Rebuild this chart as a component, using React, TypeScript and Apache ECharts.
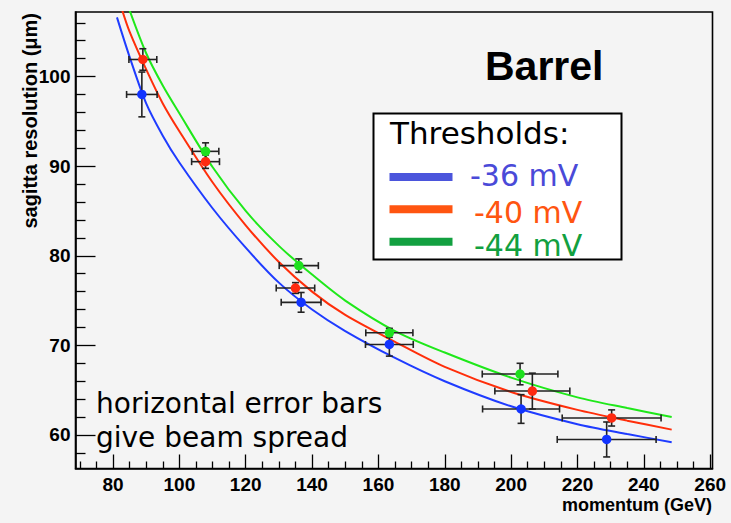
import React, { useEffect, useRef } from "react";
import * as echarts from "echarts";

// ---- axis ticks / labels ----
const X_MIN = 68.7;
const X_MAX = 260.7;
const Y_MIN = 56.26;
const Y_MAX = 107.2;
const xMajorTicks = [80, 100, 120, 140, 160, 180, 200, 220, 240, 260];
const xMinorTicks = [70, 75, 85, 90, 95, 105, 110, 115, 125, 130, 135, 145, 150, 155, 165, 170, 175, 185, 190, 195, 205, 210, 215, 225, 230, 235, 245, 250, 255];
const yMajorTicks = [60, 70, 80, 90, 100];
const yMinorTicks = [58, 62, 64, 66, 68, 72, 74, 76, 78, 82, 84, 86, 88, 92, 94, 96, 98, 102, 104, 106];

// ---- fit curves (momentum GeV, sagitta resolution um) ----
const blueCurveP = [81.2, 85, 90, 95, 100, 110, 120, 130, 140, 150, 165, 180, 200, 220, 235, 248.4];
const blueCurveS = [106.6, 102.2, 97.0, 93.4, 90.4, 85.3, 80.9, 77.0, 74.0, 71.6, 68.6, 66.0, 63.2, 61.2, 60.1, 59.2];
const redCurveP = [82.6, 85, 90, 95, 100, 110, 120, 130, 140, 150, 165, 180, 200, 220, 235, 248.4];
const redCurveS = [107.6, 105.0, 100.8, 97.0, 93.9, 88.2, 83.4, 79.3, 76.0, 73.4, 70.4, 67.6, 64.8, 62.8, 61.6, 60.6];
const greenCurveP = [84.8, 90, 95, 100, 110, 120, 130, 140, 150, 165, 180, 200, 220, 235, 248.4];
const greenCurveS = [107.6, 102.6, 99.0, 95.9, 89.9, 85.0, 81.1, 77.9, 75.0, 71.6, 69.2, 66.4, 64.2, 63.0, 62.0];

// ---- measured points with errors ----
const bluePtsP = [88.7, 136.7, 163.3, 203.0, 228.8];
const bluePtsS = [98.0, 74.8, 70.1, 62.9, 59.5];
const bluePtsPErr = [4.6, 6.0, 7.2, 11.6, 14.9];
const bluePtsSErr = [2.5, 1.1, 1.3, 1.6, 1.95];

const redPtsP = [89.0, 107.9, 135.0, 206.4, 230.3];
const redPtsS = [101.9, 90.5, 76.4, 64.9, 61.9];
const redPtsPErr = [4.2, 4.2, 5.8, 11.3, 14.9];
const redPtsSErr = [1.2, 0.75, 0.6, 2.0, 0.9];

const greenPtsP = [107.9, 136.0, 163.3, 202.7];
const greenPtsS = [91.65, 78.9, 71.4, 66.8];
const greenPtsPErr = [4.0, 5.9, 7.1, 11.4];
const greenPtsSErr = [0.95, 0.75, 0.5, 1.2];

const legendLabels = ["-36 mV", "-40 mV", "-44 mV"];

const zip = (a: number[], b: number[]) => a.map((v, i) => [v, b[i]]);
const zip4 = (a: number[], b: number[], c: number[], d: number[]) => a.map((v, i) => [v, b[i], c[i], d[i]]);

const BOLD = '"Liberation Sans", Arial, Helvetica, sans-serif';
const COMIC = '"DejaVu Sans", sans-serif';

const C_BLUE_LINE = "#1f3cff";
const C_RED_LINE = "#ff2e0a";
const C_GREEN_LINE = "#1fe81a";
const C_BLUE_PT = "#1234ff";
const C_RED_PT = "#ff2a10";
const C_GREEN_PT = "#1ee01e";

function errRender(params: any, api: any) {
  const x = api.value(0), y = api.value(1), ex = api.value(2), ey = api.value(3);
  const l = api.coord([x - ex, y]);
  const r = api.coord([x + ex, y]);
  const t = api.coord([x, y + ey]);
  const b = api.coord([x, y - ey]);
  const st = { stroke: "#222", lineWidth: 1.6 };
  const c = 3.5;
  return {
    type: "group",
    children: [
      { type: "line", shape: { x1: l[0], y1: l[1], x2: r[0], y2: r[1] }, style: st },
      { type: "line", shape: { x1: l[0], y1: l[1] - c, x2: l[0], y2: l[1] + c }, style: st },
      { type: "line", shape: { x1: r[0], y1: r[1] - c, x2: r[0], y2: r[1] + c }, style: st },
      { type: "line", shape: { x1: t[0], y1: t[1], x2: b[0], y2: b[1] }, style: st },
      { type: "line", shape: { x1: t[0] - c, y1: t[1], x2: t[0] + c, y2: t[1] }, style: st },
      { type: "line", shape: { x1: b[0] - c, y1: b[1], x2: b[0] + c, y2: b[1] }, style: st },
    ],
  };
}

export default function App() {
  const ref = useRef<HTMLDivElement>(null);
  useEffect(() => {
    if (!ref.current) return;
    const chart = echarts.init(ref.current, undefined, { renderer: "svg" });
    const axisLineStyle = { color: "#000", width: 1.6 };
    const tickStyle = { color: "#000", width: 1.3 };
    const curve = (name: string, p: number[], s: number[], color: string) => ({
      name,
      type: "line",
      data: zip(p, s),
      showSymbol: false,
      smooth: 0.3,
      lineStyle: { color, width: 2 },
      z: 3,
    });
    const errs = (p: number[], s: number[], ep: number[], es: number[]) => ({
      type: "custom",
      renderItem: errRender,
      data: zip4(p, s, ep, es),
      z: 4,
    });
    const pts = (p: number[], s: number[], color: string) => ({
      type: "scatter",
      data: zip(p, s),
      symbol: "circle",
      symbolSize: 9.5,
      itemStyle: { color, opacity: 1 },
      z: 5,
    });
    const legendText = (i: number, x: number, y: number, fill: string) => ({
      type: "text",
      x,
      y,
      z: 101,
      style: { text: legendLabels[i], fontSize: 30, fontFamily: COMIC, fill, align: "left", verticalAlign: "middle" },
    });
    const option: any = {
      animation: false,
      backgroundColor: "#f4f4f4",
      grid: {
        left: 75.5,
        right: 18.5,
        top: 12,
        bottom: 54.5,
        show: true,
        borderColor: "#000",
        borderWidth: 1.6,
        backgroundColor: "transparent",
      },
      xAxis: [
        {
          type: "value",
          min: X_MIN,
          max: X_MAX,
          position: "bottom",
          axisLine: { show: true, lineStyle: axisLineStyle },
          axisTick: { show: true, inside: true, length: 14, customValues: xMajorTicks, lineStyle: tickStyle },
          axisLabel: {
            customValues: xMajorTicks,
            margin: 6,
            fontSize: 19,
            fontWeight: "bold",
            fontFamily: BOLD,
            color: "#000",
          },
          splitLine: { show: false },
        },
        {
          type: "value",
          min: X_MIN,
          max: X_MAX,
          position: "bottom",
          axisLine: { show: false },
          axisTick: { show: true, inside: true, length: 7, customValues: xMinorTicks, lineStyle: tickStyle },
          axisLabel: { show: false },
          splitLine: { show: false },
        },
      ],
      yAxis: [
        {
          type: "value",
          min: Y_MIN,
          max: Y_MAX,
          position: "left",
          axisLine: { show: true, lineStyle: axisLineStyle },
          axisTick: { show: true, inside: true, length: 20, customValues: yMajorTicks, lineStyle: tickStyle },
          axisLabel: {
            customValues: yMajorTicks,
            margin: 5,
            fontSize: 19,
            fontWeight: "bold",
            fontFamily: BOLD,
            color: "#000",
          },
          splitLine: { show: false },
        },
        {
          type: "value",
          min: Y_MIN,
          max: Y_MAX,
          position: "left",
          axisLine: { show: false },
          axisTick: { show: true, inside: true, length: 10, customValues: yMinorTicks, lineStyle: tickStyle },
          axisLabel: { show: false },
          splitLine: { show: false },
        },
      ],
      series: [
        curve("-36 mV", blueCurveP, blueCurveS, C_BLUE_LINE),
        curve("-40 mV", redCurveP, redCurveS, C_RED_LINE),
        curve("-44 mV", greenCurveP, greenCurveS, C_GREEN_LINE),
        errs(bluePtsP, bluePtsS, bluePtsPErr, bluePtsSErr),
        errs(redPtsP, redPtsS, redPtsPErr, redPtsSErr),
        errs(greenPtsP, greenPtsS, greenPtsPErr, greenPtsSErr),
        pts(bluePtsP, bluePtsS, C_BLUE_PT),
        pts(redPtsP, redPtsS, C_RED_PT),
        pts(greenPtsP, greenPtsS, C_GREEN_PT),
      ],
      graphic: [
        {
          type: "text",
          x: 30,
          y: 13,
          rotation: Math.PI / 2,
          z: 100,
          style: {
            text: "sagitta resolution (μm)",
            fontSize: 20,
            fontWeight: "bold",
            fontFamily: BOLD,
            fill: "#000",
            align: "right",
            verticalAlign: "middle",
          },
        },
        {
          type: "text",
          x: 712,
          y: 505,
          z: 100,
          style: {
            text: "momentum (GeV)",
            fontSize: 18,
            fontWeight: "bold",
            fontFamily: BOLD,
            fill: "#000",
            align: "right",
            verticalAlign: "middle",
          },
        },
        {
          type: "text",
          x: 485,
          y: 65.8,
          z: 100,
          style: {
            text: "Barrel",
            fontSize: 41,
            fontWeight: "bold",
            fontFamily: BOLD,
            fill: "#000",
            align: "left",
            verticalAlign: "middle",
          },
        },
        {
          type: "rect",
          z: 100,
          shape: { x: 373.5, y: 113.5, width: 248, height: 146 },
          style: { fill: "#ffffff", stroke: "#000", lineWidth: 2 },
        },
        {
          type: "text",
          x: 390,
          y: 132.6,
          z: 101,
          style: { text: "Thresholds:", fontSize: 31, fontFamily: COMIC, fill: "#000", align: "left", verticalAlign: "middle" },
        },
        { type: "rect", z: 101, shape: { x: 389.5, y: 173, width: 63, height: 8 }, style: { fill: "#4b55dc" } },
        { type: "rect", z: 101, shape: { x: 389.5, y: 205.3, width: 63, height: 8 }, style: { fill: "#ff5511" } },
        { type: "rect", z: 101, shape: { x: 389.5, y: 237.7, width: 63, height: 8 }, style: { fill: "#12a040" } },
        legendText(0, 470, 175.3, "#4a4ad8"),
        legendText(1, 474, 212.5, "#ff5511"),
        legendText(2, 474, 245.5, "#12a040"),
        {
          type: "text",
          x: 96,
          y: 403.6,
          z: 100,
          style: { text: "horizontal error bars", fontSize: 28, fontFamily: COMIC, fill: "#000", align: "left", verticalAlign: "middle" },
        },
        {
          type: "text",
          x: 96,
          y: 437.3,
          z: 100,
          style: { text: "give beam spread", fontSize: 28, fontFamily: COMIC, fill: "#000", align: "left", verticalAlign: "middle" },
        },
      ],
    };
    chart.setOption(option);
    return () => chart.dispose();
  }, []);
  return (
    <div
      ref={ref}
      style={{ position: "fixed", left: 0, top: 0, width: 731, height: 523, background: "#f4f4f4" }}
    />
  );
}
